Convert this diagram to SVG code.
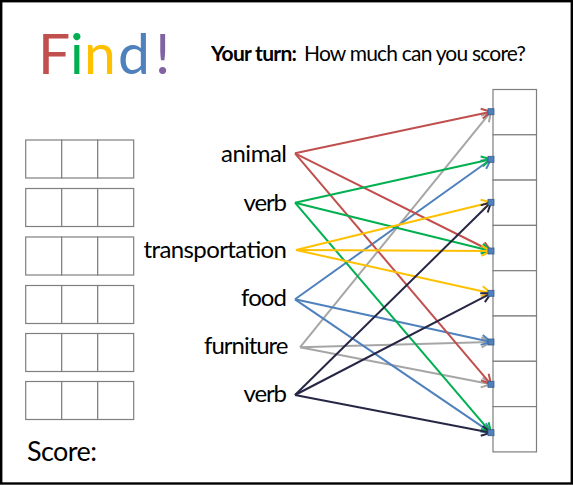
<svg xmlns="http://www.w3.org/2000/svg" width="573" height="485" viewBox="0 0 573 485">
<style>
.lbl{font-family:Lato,"Open Sans","Liberation Sans",sans-serif;font-size:24px;fill:#000;text-anchor:end}
.ttl{font-family:Lato,"Open Sans","Liberation Sans",sans-serif;font-size:21px;fill:#000}
.sc{font-family:Lato,"Open Sans","Liberation Sans",sans-serif;font-size:27px;fill:#000}
.find{font-family:Lato,"Open Sans","Liberation Sans",sans-serif;font-size:57px}
.cell{fill:#fff;stroke:#7f7f7f;stroke-width:1.2}
.c{fill:none;stroke-width:2}
.pt{fill:#4F81BD;stroke:#385D8A;stroke-width:0.8}
</style>
<defs>
<marker id="aR" markerUnits="userSpaceOnUse" markerWidth="14" markerHeight="14" refX="11" refY="7" orient="auto"><path d="M1.5,2 L11,7 L1.5,12" fill="none" stroke="#C0504D" stroke-width="2"/></marker>
<marker id="aG" markerUnits="userSpaceOnUse" markerWidth="14" markerHeight="14" refX="11" refY="7" orient="auto"><path d="M1.5,2 L11,7 L1.5,12" fill="none" stroke="#00B050" stroke-width="2"/></marker>
<marker id="aY" markerUnits="userSpaceOnUse" markerWidth="14" markerHeight="14" refX="11" refY="7" orient="auto"><path d="M1.5,2 L11,7 L1.5,12" fill="none" stroke="#FFC000" stroke-width="2"/></marker>
<marker id="aB" markerUnits="userSpaceOnUse" markerWidth="14" markerHeight="14" refX="11" refY="7" orient="auto"><path d="M1.5,2 L11,7 L1.5,12" fill="none" stroke="#4F81BD" stroke-width="2"/></marker>
<marker id="aS" markerUnits="userSpaceOnUse" markerWidth="14" markerHeight="14" refX="11" refY="7" orient="auto"><path d="M1.5,2 L11,7 L1.5,12" fill="none" stroke="#A6A6A6" stroke-width="2"/></marker>
<marker id="aK" markerUnits="userSpaceOnUse" markerWidth="14" markerHeight="14" refX="11" refY="7" orient="auto"><path d="M1.5,2 L11,7 L1.5,12" fill="none" stroke="#262645" stroke-width="2"/></marker>
</defs>
<rect x="0" y="0" width="573" height="485" fill="#fff"/>
<rect x="1.2" y="1.2" width="570.6" height="482.3" fill="none" stroke="#000" stroke-width="2.4"/>

<g id="title">
<text class="find" y="74"><tspan x="38" fill="#C0504D">F</tspan><tspan x="70" fill="#00B050">i</tspan><tspan x="84" fill="#FFC000">n</tspan><tspan x="118" fill="#4F81BD">d</tspan><tspan x="155" fill="#8064A2">!</tspan></text>
<text class="ttl" x="211" y="61" font-weight="bold" textLength="86">Your turn:</text>
<text class="ttl" x="304" y="61" textLength="222">How much can you score?</text>
</g>

<g id="answer-grids">
<g id="grid1"><rect class="cell" x="25.7" y="140" width="36" height="38"/><rect class="cell" x="61.7" y="140" width="36" height="38"/><rect class="cell" x="97.7" y="140" width="36" height="38"/></g>
<g id="grid2"><rect class="cell" x="25.7" y="188.5" width="36" height="38"/><rect class="cell" x="61.7" y="188.5" width="36" height="38"/><rect class="cell" x="97.7" y="188.5" width="36" height="38"/></g>
<g id="grid3"><rect class="cell" x="25.7" y="237" width="36" height="38"/><rect class="cell" x="61.7" y="237" width="36" height="38"/><rect class="cell" x="97.7" y="237" width="36" height="38"/></g>
<g id="grid4"><rect class="cell" x="25.7" y="285.5" width="36" height="38"/><rect class="cell" x="61.7" y="285.5" width="36" height="38"/><rect class="cell" x="97.7" y="285.5" width="36" height="38"/></g>
<g id="grid5"><rect class="cell" x="25.7" y="333.5" width="36" height="38"/><rect class="cell" x="61.7" y="333.5" width="36" height="38"/><rect class="cell" x="97.7" y="333.5" width="36" height="38"/></g>
<g id="grid6"><rect class="cell" x="25.7" y="381.5" width="36" height="38"/><rect class="cell" x="61.7" y="381.5" width="36" height="38"/><rect class="cell" x="97.7" y="381.5" width="36" height="38"/></g>
</g>

<g id="score"><text class="sc" x="27" y="461" textLength="70">Score:</text></g>

<g id="label-animal"><text class="lbl" x="287" y="162.3" textLength="66">animal</text></g>
<g id="label-verb1"><text class="lbl" x="287" y="210.7" textLength="43.5">verb</text></g>
<g id="label-transportation"><text class="lbl" x="287" y="258.3" textLength="143.5">transportation</text></g>
<g id="label-food"><text class="lbl" x="287" y="305.5" textLength="46">food</text></g>
<g id="label-furniture"><text class="lbl" x="288.5" y="354.3" textLength="84.5">furniture</text></g>
<g id="label-verb2"><text class="lbl" x="287" y="401.7" textLength="43.5">verb</text></g>

<g id="target-column">
<rect class="cell" x="493" y="89.5" width="43.5" height="45.3"/>
<rect class="cell" x="493" y="134.8" width="43.5" height="45.3"/>
<rect class="cell" x="493" y="180.1" width="43.5" height="45.3"/>
<rect class="cell" x="493" y="225.4" width="43.5" height="45.3"/>
<rect class="cell" x="493" y="270.7" width="43.5" height="45.3"/>
<rect class="cell" x="493" y="316" width="43.5" height="45.3"/>
<rect class="cell" x="493" y="361.3" width="43.5" height="45.3"/>
<rect class="cell" x="493" y="406.6" width="43.5" height="45.3"/>
</g>

<g id="connectors">
<line class="c" stroke="#A6A6A6" marker-end="url(#aS)" x1="300" y1="347.3" x2="491" y2="111.7"/>
<line class="c" stroke="#A6A6A6" marker-end="url(#aS)" x1="300" y1="347.3" x2="491" y2="342"/>
<line class="c" stroke="#A6A6A6" marker-end="url(#aS)" x1="300" y1="347.3" x2="491" y2="384.3"/>
<line class="c" stroke="#4F81BD" marker-end="url(#aB)" x1="295" y1="299.3" x2="491" y2="159.3"/>
<line class="c" stroke="#4F81BD" marker-end="url(#aB)" x1="295" y1="299.3" x2="491" y2="342"/>
<line class="c" stroke="#4F81BD" marker-end="url(#aB)" x1="295" y1="299.3" x2="491" y2="432.7"/>
<line class="c" stroke="#C0504D" marker-end="url(#aR)" x1="295" y1="153.3" x2="491" y2="111.7"/>
<line class="c" stroke="#C0504D" marker-end="url(#aR)" x1="295" y1="153.3" x2="491" y2="251"/>
<line class="c" stroke="#C0504D" marker-end="url(#aR)" x1="295" y1="153.3" x2="491" y2="384.3"/>
<line class="c" stroke="#00B050" marker-end="url(#aG)" x1="295" y1="202.7" x2="491" y2="159.3"/>
<line class="c" stroke="#00B050" marker-end="url(#aG)" x1="295" y1="202.7" x2="491" y2="251"/>
<line class="c" stroke="#00B050" marker-end="url(#aG)" x1="295" y1="202.7" x2="491" y2="432.7"/>
<line class="c" stroke="#FFC000" marker-end="url(#aY)" x1="296" y1="250" x2="491" y2="202.3"/>
<line class="c" stroke="#FFC000" marker-end="url(#aY)" x1="296" y1="250" x2="491" y2="251"/>
<line class="c" stroke="#FFC000" marker-end="url(#aY)" x1="296" y1="250" x2="491" y2="293.3"/>
<line class="c" stroke="#262645" marker-end="url(#aK)" x1="295" y1="395" x2="491" y2="202.3"/>
<line class="c" stroke="#262645" marker-end="url(#aK)" x1="295" y1="395" x2="491" y2="293.3"/>
<line class="c" stroke="#262645" marker-end="url(#aK)" x1="295" y1="395" x2="491" y2="432.7"/>
</g>

<g id="connection-points">
<rect class="pt" x="488" y="108.7" width="6" height="6"/>
<rect class="pt" x="488" y="156.3" width="6" height="6"/>
<rect class="pt" x="488" y="199.3" width="6" height="6"/>
<rect class="pt" x="488" y="248" width="6" height="6"/>
<rect class="pt" x="488" y="290.3" width="6" height="6"/>
<rect class="pt" x="488" y="339" width="6" height="6"/>
<rect class="pt" x="488" y="381.3" width="6" height="6"/>
<rect class="pt" x="488" y="429.7" width="6" height="6"/>
</g>
</svg>
